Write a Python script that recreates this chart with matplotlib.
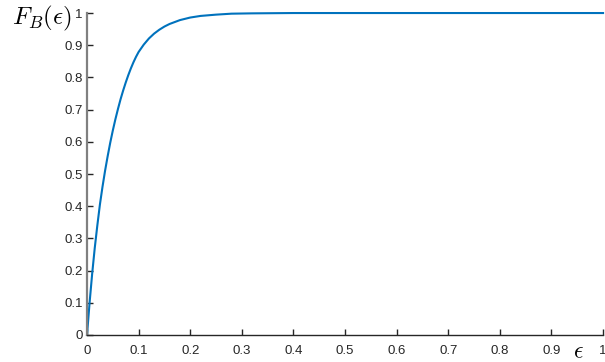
import matplotlib
matplotlib.use("Agg")
import matplotlib.pyplot as plt

# values
eps = [0, 0.005, 0.01, 0.015, 0.02, 0.025, 0.03, 0.035, 0.04, 0.045, 0.05, 0.055,
       0.06, 0.065, 0.07, 0.075, 0.08, 0.085, 0.09, 0.095, 0.10, 0.11, 0.12, 0.13,
       0.14, 0.15, 0.16, 0.18, 0.20, 0.22, 0.25, 0.28, 0.32, 0.4, 0.5, 0.6, 0.7,
       0.8, 0.9, 1.0]
FB = [0, 0.1, 0.19, 0.27, 0.34, 0.405, 0.46, 0.51, 0.555, 0.597, 0.635, 0.67,
      0.702, 0.732, 0.759, 0.784, 0.807, 0.828, 0.847, 0.864, 0.879, 0.902, 0.921, 0.936,
      0.948, 0.958, 0.966, 0.978, 0.986, 0.991, 0.995, 0.998, 0.999, 1.0, 1.0, 1.0, 1.0,
      1.0, 1.0, 1.0]

xticks = [0, 0.1, 0.2, 0.3, 0.4, 0.5, 0.6, 0.7, 0.8, 0.9, 1]
xticklabels = ["0", "0.1", "0.2", "0.3", "0.4", "0.5", "0.6", "0.7", "0.8", "0.9", "1"]
yticks = [0, 0.1, 0.2, 0.3, 0.4, 0.5, 0.6, 0.7, 0.8, 0.9, 1]
yticklabels = ["0", "0.1", "0.2", "0.3", "0.4", "0.5", "0.6", "0.7", "0.8", "0.9", "1"]

plt.rcParams['font.family'] = ['Liberation Sans', 'DejaVu Sans']
plt.rcParams['mathtext.fontset'] = 'cm'

fig = plt.figure(figsize=(6.05, 3.62), dpi=100)
ax = fig.add_axes([0.1438, 0.0746, 0.853, 0.8894])

ax.plot(eps, FB, color='#0072BD', lw=1.5, clip_on=False)

ax.set_xlim(0, 1)
ax.set_ylim(0, 1)
ax.set_xticks(xticks)
ax.set_xticklabels(xticklabels)
ax.set_yticks(yticks)
ax.set_yticklabels(yticklabels)
ax.tick_params(direction='in', length=4, width=1, labelsize=9.5,
               colors='#262626', pad=3)
ax.tick_params(axis='x', pad=7)

for s in ['top', 'right']:
    ax.spines[s].set_visible(False)
ax.spines['left'].set_color('#808080')
ax.spines['left'].set_linewidth(1.6)
ax.spines['bottom'].set_color('#262626')
ax.spines['bottom'].set_linewidth(1.0)

fig.text(0.02, 0.95, r'$F_B(\epsilon)$', fontsize=18, ha='left', va='center', color='black')
fig.text(0.956, -0.004, r'$\epsilon$', fontsize=17, ha='center', va='bottom', color='black')

fig.savefig("out.png", dpi=100)
